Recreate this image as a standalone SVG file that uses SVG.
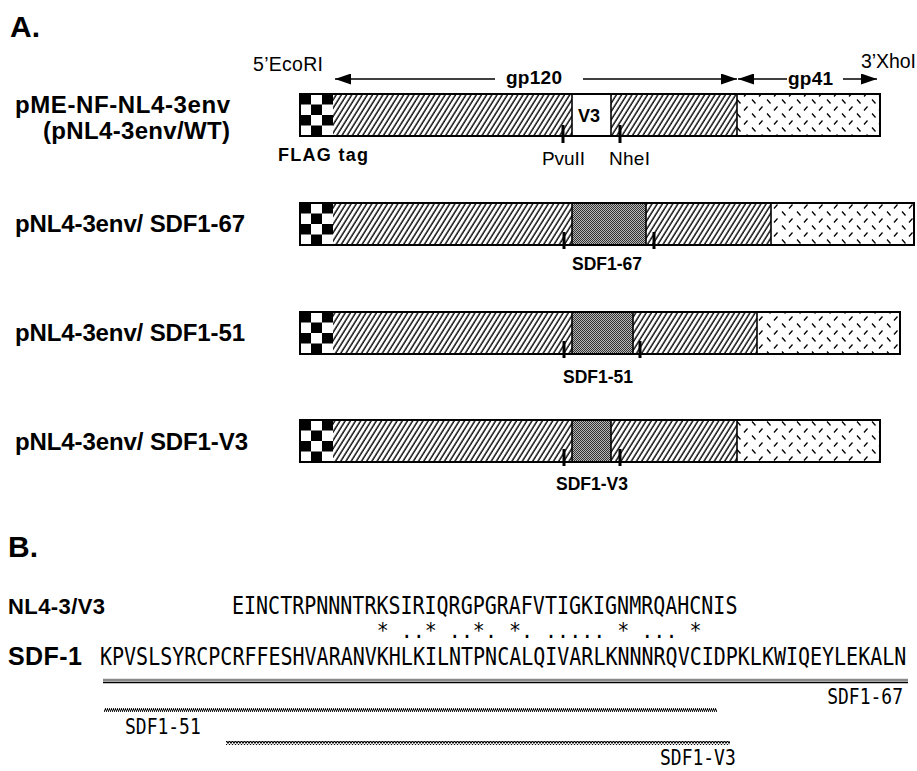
<svg xmlns="http://www.w3.org/2000/svg" xmlns:xlink="http://www.w3.org/1999/xlink" width="917" height="771" viewBox="0 0 917 771">
<style>
.h{font-family:"Liberation Sans",Arial,sans-serif;font-weight:bold;fill:#000}
.r{font-family:"Liberation Sans",Arial,sans-serif;fill:#000}
.seq{font-family:"DejaVu Sans Mono","Liberation Mono",monospace;font-size:20px;fill:#000}
.lab{font-family:"DejaVu Sans Mono","Liberation Mono",monospace;font-size:18px;fill:#000}
.box{fill:none;stroke:#000;stroke-width:2}
.div{stroke:#000;stroke-width:1.6}
.tick{stroke:#000;stroke-width:3}
.arr{stroke:#000;stroke-width:1.6;fill:none}
</style>
<defs>
<pattern id="hatch" patternUnits="userSpaceOnUse" width="4.4" height="10" patternTransform="rotate(32)">
<rect width="4.4" height="10" fill="#fff"/>
<line x1="1" y1="0" x2="1" y2="10" stroke="#000" stroke-width="1.4"/>
</pattern>
<pattern id="gray" patternUnits="userSpaceOnUse" width="2" height="2">
<rect width="2" height="2" fill="#b8b8b8"/>
<rect width="1" height="1" fill="#333"/>
<rect x="1" y="1" width="1" height="1" fill="#333"/>
</pattern>
<pattern id="dash" patternUnits="userSpaceOnUse" width="15" height="14">
<rect width="15" height="14" fill="#fff"/>
<path d="M2,1.5 L5.5,5.5 M9,12.5 L12.5,8.5" stroke="#000" stroke-width="1.3"/>
</pattern>
<pattern id="zig" patternUnits="userSpaceOnUse" width="3" height="4">
<path d="M0,3.5 L1.5,0.5 L3,3.5" stroke="#000" stroke-width="1.1" fill="none"/>
</pattern>
<pattern id="fine" patternUnits="userSpaceOnUse" width="2" height="4">
<path d="M0,4 L2,0" stroke="#000" stroke-width="1.1"/>
</pattern>
<g id="checker">
<rect x="0" y="0" width="33" height="42" fill="#fff"/>
<rect x="0" y="0" width="11" height="10.5" fill="#000"/>
<rect x="22" y="0" width="11" height="10.5" fill="#000"/>
<rect x="11" y="10.5" width="11" height="10.5" fill="#000"/>
<rect x="0" y="21" width="11" height="10.5" fill="#000"/>
<rect x="22" y="21" width="11" height="10.5" fill="#000"/>
<rect x="11" y="31.5" width="11" height="10.5" fill="#000"/>
</g>
<marker id="ah" markerUnits="userSpaceOnUse" markerWidth="16" markerHeight="11" refX="16" refY="5.5" orient="auto-start-reverse">
<path d="M0,0 L16,5.5 L0,11 z" fill="#000"/>
</marker>
</defs>
<rect width="917" height="771" fill="#fff"/>

<text class="h" x="10" y="37" font-size="30">A.</text>
<text class="h" x="8" y="557" font-size="30">B.</text>

<g id="connectors">
<line class="arr" x1="335" y1="79" x2="495" y2="79" marker-start="url(#ah)"/>
<line class="arr" x1="583" y1="79" x2="737" y2="79" marker-end="url(#ah)"/>
<line class="arr" x1="738" y1="79" x2="787" y2="79" marker-start="url(#ah)"/>
<line class="arr" x1="843" y1="79" x2="877" y2="79" marker-end="url(#ah)"/>
</g>
<g id="region-labels">
<text class="r" x="253" y="71" font-size="19.5" textLength="70">5’EcoRI</text>
<text class="h" x="506" y="84" font-size="19" textLength="56">gp120</text>
<text class="h" x="788" y="85" font-size="19" textLength="45">gp41</text>
<text class="r" x="861" y="68" font-size="19.5" textLength="55">3’XhoI</text>
</g>

<g id="row-wt">
<text class="h" x="15" y="113" font-size="24" textLength="215">pME-NF-NL4-3env</text>
<text class="h" x="43" y="139" font-size="24" textLength="187">(pNL4-3env/WT)</text>
<use xlink:href="#checker" x="300" y="94"/>
<rect x="333" y="94" width="239" height="42" fill="url(#hatch)"/>
<rect x="572" y="94" width="39" height="42" fill="#fff"/>
<rect x="611" y="94" width="126" height="42" fill="url(#hatch)"/>
<rect x="737" y="94" width="143" height="42" fill="url(#dash)"/>
<line class="div" x1="572" y1="94" x2="572" y2="136"/>
<line class="div" x1="611" y1="94" x2="611" y2="136"/>
<line class="div" x1="737" y1="94" x2="737" y2="136"/>
<rect class="box" x="300" y="94" width="580" height="42"/>
<text class="h" x="578" y="122" font-size="18" textLength="22">V3</text>
<line class="tick" x1="563" y1="125" x2="563" y2="143"/>
<line class="tick" x1="620" y1="125" x2="620" y2="143"/>
<text class="h" x="278" y="161" font-size="18" textLength="90">FLAG tag</text>
<text class="r" x="542" y="165" font-size="19" textLength="43">PvuII</text>
<text class="r" x="609" y="165" font-size="19" textLength="41">NheI</text>
</g>

<g id="row-sdf1-67">
<text class="h" x="15" y="232" font-size="24" textLength="230">pNL4-3env/ SDF1-67</text>
<use xlink:href="#checker" x="300" y="203"/>
<rect x="333" y="203" width="239" height="42" fill="url(#hatch)"/>
<rect x="572" y="203" width="74" height="42" fill="url(#gray)"/>
<rect x="646" y="203" width="125" height="42" fill="url(#hatch)"/>
<rect x="771" y="203" width="143" height="42" fill="url(#dash)"/>
<line class="div" x1="572" y1="203" x2="572" y2="245"/>
<line class="div" x1="646" y1="203" x2="646" y2="245"/>
<line class="div" x1="771" y1="203" x2="771" y2="245"/>
<rect class="box" x="300" y="203" width="614" height="42"/>
<line class="tick" x1="564" y1="232" x2="564" y2="249"/>
<line class="tick" x1="654" y1="232" x2="654" y2="249"/>
<text class="h" x="607" y="270" font-size="17.5" text-anchor="middle">SDF1-67</text>
</g>

<g id="row-sdf1-51">
<text class="h" x="15" y="341" font-size="24" textLength="230">pNL4-3env/ SDF1-51</text>
<use xlink:href="#checker" x="300" y="312"/>
<rect x="333" y="312" width="239" height="42" fill="url(#hatch)"/>
<rect x="572" y="312" width="61" height="42" fill="url(#gray)"/>
<rect x="633" y="312" width="124" height="42" fill="url(#hatch)"/>
<rect x="757" y="312" width="143" height="42" fill="url(#dash)"/>
<line class="div" x1="572" y1="312" x2="572" y2="354"/>
<line class="div" x1="633" y1="312" x2="633" y2="354"/>
<line class="div" x1="757" y1="312" x2="757" y2="354"/>
<rect class="box" x="300" y="312" width="600" height="42"/>
<line class="tick" x1="564" y1="341" x2="564" y2="358"/>
<line class="tick" x1="640" y1="341" x2="640" y2="358"/>
<text class="h" x="598" y="383" font-size="17.5" text-anchor="middle">SDF1-51</text>
</g>

<g id="row-sdf1-v3">
<text class="h" x="15" y="450" font-size="24" textLength="233">pNL4-3env/ SDF1-V3</text>
<use xlink:href="#checker" x="300" y="420"/>
<rect x="333" y="420" width="239" height="42" fill="url(#hatch)"/>
<rect x="572" y="420" width="39" height="42" fill="url(#gray)"/>
<rect x="611" y="420" width="126" height="42" fill="url(#hatch)"/>
<rect x="737" y="420" width="143" height="42" fill="url(#dash)"/>
<line class="div" x1="572" y1="420" x2="572" y2="462"/>
<line class="div" x1="611" y1="420" x2="611" y2="462"/>
<line class="div" x1="737" y1="420" x2="737" y2="462"/>
<rect class="box" x="300" y="420" width="580" height="42"/>
<line class="tick" x1="564" y1="449" x2="564" y2="466"/>
<line class="tick" x1="620" y1="449" x2="620" y2="466"/>
<text class="h" x="592" y="490" font-size="17.5" text-anchor="middle">SDF1-V3</text>
</g>

<g id="alignment">
<text class="h" x="8" y="614" font-size="22" textLength="97">NL4-3/V3</text>
<text class="seq" transform="translate(232,614) scale(1,1.2)" x="0" y="0">EINCTRPNNNTRKSIRIQRGPGRAFVTIGKIGNMRQAHCNIS</text>
<text class="seq" transform="translate(0,638) scale(1,1.1)" y="0" text-anchor="middle" x="382.7 406.8 418.8 430.8 454.9 466.9 478.9 491 515 527.1 551.1 563.1 575.2 587.2 599.2 623.3 647.4 659.4 671.4 695.5">*..*..*.*......*...*</text>
<text class="h" x="8" y="665" font-size="25" textLength="74">SDF-1</text>
<text class="seq" transform="translate(100,665) scale(1,1.2)" x="0" y="0">KPVSLSYRCPCRFFESHVARANVKHLKILNTPNCALQIVARLKNNNRQVCIDPKLKWIQEYLEKALN</text>
</g>

<g id="fragments">
<line x1="103" y1="680" x2="908" y2="680" stroke="#8a8a8a" stroke-width="2.5"/>
<line x1="103" y1="682.5" x2="908" y2="682.5" stroke="#000" stroke-width="1.3"/>
<text class="lab" transform="translate(903,704) scale(1,1.15)" x="0" y="0" text-anchor="end">SDF1-67</text>
<rect x="104" y="708" width="613" height="4" fill="url(#fine)"/>
<text class="lab" transform="translate(125,734) scale(1,1.15)" x="0" y="0">SDF1-51</text>
<rect x="226" y="741" width="504" height="4" fill="url(#zig)"/>
<text class="lab" transform="translate(660,765) scale(1,1.15)" x="0" y="0">SDF1-V3</text>
</g>
</svg>
